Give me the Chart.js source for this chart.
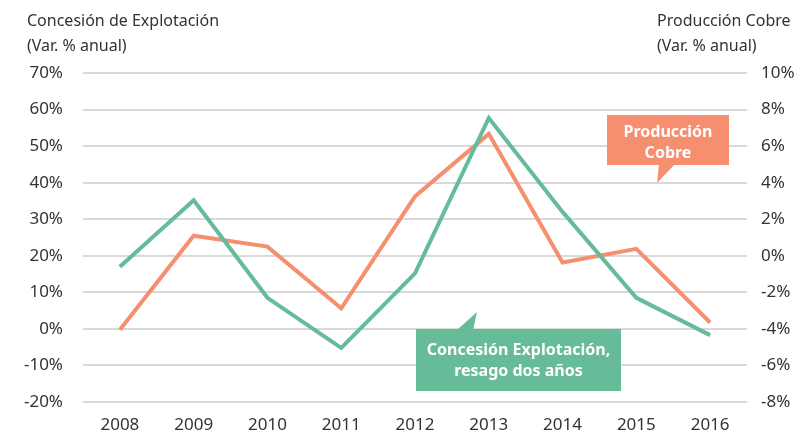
<!DOCTYPE html>
<html>
<head>
<meta charset="utf-8">
<script src="https://cdn.jsdelivr.net/npm/chart.js@4.4.1/dist/chart.umd.min.js"></script>
<style>
  html, body { margin: 0; padding: 0; background: #fff; }
  #wrap { width: 803px; height: 437px; position: relative; }
</style>
</head>
<body>
<div id="wrap"><canvas id="lineChart" width="803" height="437"></canvas></div>
<script>
var years = ['2008', '2009', '2010', '2011', '2012', '2013', '2014', '2015', '2016'];
// Concesión de explotación, resago dos años (left axis, %)
var concesion = [17, 35.2, 8.5, -5.2, 15.2, 57.7, 32, 8.5, -1.7];
// Producción cobre (right axis, %)
var produccion = [-4.05, 1.1, 0.5, -2.87, 3.25, 6.67, -0.37, 0.38, -3.65];

var leftMin = -20, leftMax = 70, leftStep = 10;
var rightMin = -8, rightMax = 10, rightStep = 2;

var green = '#66bb98';
var orange = '#f58f70';
var textColor = '#333333';
var fontFamily = '"Noto Sans", sans-serif';

(function() {
  "use strict";

  // titles and callout boxes
  var extras = {
    id: 'extras',
    afterDraw: function(chart) {
      var c = chart.ctx;
      c.save();
      c.fillStyle = textColor;
      c.font = '16px ' + fontFamily;
      c.textBaseline = 'middle';
      c.textAlign = 'left';
      c.fillText('Concesión de Explotación', 27, 21);
      c.fillText('(Var. % anual)', 27, 46);
      c.fillText('Producción Cobre', 657, 21);
      c.fillText('(Var. % anual)', 657, 46);

      // Producción Cobre callout
      c.fillStyle = orange;
      c.fillRect(607, 115, 122, 50);
      c.beginPath();
      c.moveTo(659, 164); c.lineTo(675, 164); c.lineTo(657, 183);
      c.closePath(); c.fill();
      c.fillStyle = '#fff';
      c.font = 'bold 16px ' + fontFamily;
      c.textAlign = 'center';
      c.fillText('Producción', 668, 132);
      c.fillText('Cobre', 668, 153);

      // Concesión callout
      c.fillStyle = green;
      c.fillRect(416, 329, 205, 62);
      c.beginPath();
      c.moveTo(457, 330); c.lineTo(473, 330); c.lineTo(477, 312);
      c.closePath(); c.fill();
      c.fillStyle = '#fff';
      c.fillText('Concesión Explotación,', 518.5, 350);
      c.fillText('resago dos años', 518.5, 371);
      c.restore();
    }
  };

  var ctx = document.getElementById('lineChart').getContext('2d');
  var myChart = new Chart(ctx, {
    type: 'line',
    data: {
      labels: years,
      datasets: [{
        label: 'Concesión Explotación, resago dos años',
        data: concesion,
        borderColor: green,
        backgroundColor: green,
        borderWidth: 4,
        pointRadius: 0,
        tension: 0,
        yAxisID: 'y'
      }, {
        label: 'Producción Cobre',
        data: produccion,
        borderColor: orange,
        backgroundColor: orange,
        borderWidth: 4,
        pointRadius: 0,
        tension: 0,
        yAxisID: 'y2'
      }]
    },
    options: {
      responsive: false,
      animation: false,
      layout: { padding: { top: 73, left: 0, right: 0, bottom: 0 } },
      plugins: {
        legend: { display: false },
        tooltip: { enabled: false }
      },
      scales: {
        x: {
          offset: true,
          grid: { display: false, drawTicks: false },
          border: { display: false },
          ticks: { color: textColor, font: { family: fontFamily, size: 17 }, padding: 13, maxRotation: 0 },
          afterFit: function(s) { s.height = 35; }
        },
        y: {
          position: 'left',
          min: leftMin, max: leftMax,
          grid: { color: '#d9d9d9', lineWidth: 2, drawTicks: false },
          border: { display: false },
          ticks: {
            stepSize: leftStep, padding: 20, color: textColor,
            font: { family: fontFamily, size: 17 },
            callback: function(v) { return v + '%'; }
          },
          afterFit: function(s) { s.width = 83; }
        },
        y2: {
          position: 'right',
          min: rightMin, max: rightMax,
          grid: { display: false, drawTicks: false },
          border: { display: false },
          ticks: {
            stepSize: rightStep, padding: 14, color: textColor,
            font: { family: fontFamily, size: 17 },
            callback: function(v) { return v + '%'; }
          },
          afterFit: function(s) { s.width = 56; }
        }
      }
    },
    plugins: [extras]
  });
})();
</script>
</body>
</html>
